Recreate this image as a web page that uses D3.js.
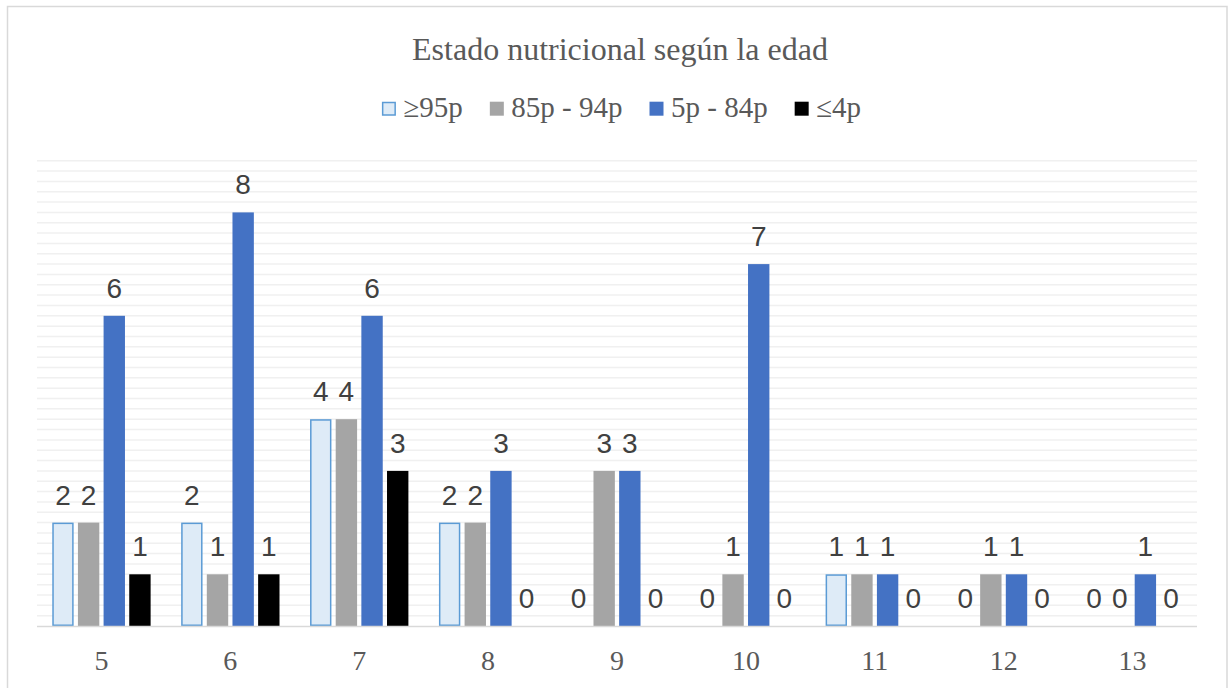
<!DOCTYPE html>
<html><head><meta charset="utf-8">
<script src="https://cdn.jsdelivr.net/npm/d3@7"></script>
<style>html,body{margin:0;padding:0;background:#fff;}svg{display:block;}</style>
</head><body>
<svg id="chart" width="1230" height="688"></svg>
<script>
const title = "Estado nutricional según la edad";
const categories = ["5","6","7","8","9","10","11","12","13"];
const seriesNames = ["≥95p","85p - 94p","5p - 84p","≤4p"];
const s95 = [2,2,4,2,0,0,1,0,0];
const s85 = [2,1,4,2,3,1,1,1,0];
const s5 = [6,8,6,3,3,7,1,1,1];
const s4 = [1,1,3,0,0,0,0,0,0];
const seriesValues = [s95, s85, s5, s4];
const fills = ["#DEEBF7","#A5A5A5","#4472C4","#000000"];
const strokes = ["#5B9BD5","none","none","none"];
const serif = "'Liberation Serif', 'Times New Roman', serif";
const sans = "'Liberation Sans', Arial, sans-serif";

const svg = d3.select("#chart");
// outer border
svg.append("rect").attr("x",7.5).attr("y",6.5).attr("width",1219.5).attr("height",690)
  .attr("fill","#fff").attr("stroke","#D9D9D9").attr("stroke-width",1.5);

const left = 37, right = 1197, bottom = 626;
const y = d3.scaleLinear().domain([0,9]).range([bottom, bottom - 9*51.7]);
const x0 = d3.scaleBand().domain(categories).range([left,right]).padding(0);
const span = x0.bandwidth()*0.763;
const x1 = d3.scaleBand().domain(d3.range(4)).range([-span/2, span/2]).paddingInner(1/6).paddingOuter(0);

// gridlines
const gridVals = d3.range(1,46).map(i => i*0.2);
svg.append("g").selectAll("line").data(gridVals).join("line")
  .attr("x1",left).attr("x2",right)
  .attr("y1",d=>y(d)).attr("y2",d=>y(d))
  .attr("stroke","#F0F0F0").attr("stroke-width",1.5);

// bars
const data = [];
categories.forEach((c,ci)=>{
  seriesValues.forEach((arr,si)=>{ data.push({c, si, v: arr[ci]}); });
});
const cx = d => x0(d.c) + x0.bandwidth()/2 + x1(d.si);
svg.append("g").selectAll("rect").data(data.filter(d=>d.v>0)).join("rect")
  .attr("x", d => cx(d) + (strokes[d.si]!=="none"?0.75:0))
  .attr("y", d => y(d.v) + (strokes[d.si]!=="none"?0.75:0))
  .attr("width", d => x1.bandwidth() - (strokes[d.si]!=="none"?1.5:0))
  .attr("height", d => y(0)-y(d.v) - (strokes[d.si]!=="none"?1.5:0))
  .attr("fill", d => fills[d.si])
  .attr("stroke", d => strokes[d.si])
  .attr("stroke-width", 1.5);

// baseline axis
svg.append("line").attr("x1",left).attr("x2",right).attr("y1",bottom+0.5).attr("y2",bottom+0.5)
  .attr("stroke","#D9D9D9").attr("stroke-width",1.5);

// value labels
svg.append("g").selectAll("text").data(data).join("text")
  .attr("x", d => cx(d) + x1.bandwidth()/2)
  .attr("y", d => y(d.v) - 18)
  .attr("text-anchor","middle")
  .attr("font-family",sans)
  .attr("font-size",28)
  .attr("fill","#404040")
  .text(d => d.v);

// category axis labels
const xAxis = d3.axisBottom(x0).tickSize(0).tickPadding(0);
const gx = svg.append("g").attr("transform",`translate(0,${bottom})`).call(xAxis);
gx.select(".domain").remove();
gx.selectAll("text").attr("y",43.5).attr("dy",null)
  .attr("font-family",serif)
  .attr("font-size",28).attr("fill","#595959");

// title
svg.append("text").attr("x",620).attr("y",60).attr("text-anchor","middle")
  .attr("font-family",serif)
  .attr("font-size",32).attr("fill","#595959").text(title);

// legend
const lg = svg.append("g");
let lx = 0;
seriesNames.forEach((n,i)=>{
  const g = lg.append("g").attr("transform",`translate(${lx},0)`);
  g.append("rect").attr("x", strokes[i]!=="none"?0.75:0).attr("y", strokes[i]!=="none"?102.5:101.7)
    .attr("width", strokes[i]!=="none"?12.5:14).attr("height", strokes[i]!=="none"?12.5:14)
    .attr("fill",fills[i]).attr("stroke",strokes[i]).attr("stroke-width",1.5);
  const t = g.append("text").attr("x",21.5).attr("y",117)
    .attr("font-family",serif)
    .attr("font-size",29).attr("fill","#595959").text(n);
  lx += 21.5 + t.node().getComputedTextLength() + 27;
});
const lw = lx - 27;
lg.attr("transform",`translate(${621.5 - lw/2},0)`);
</script>
</body></html>
